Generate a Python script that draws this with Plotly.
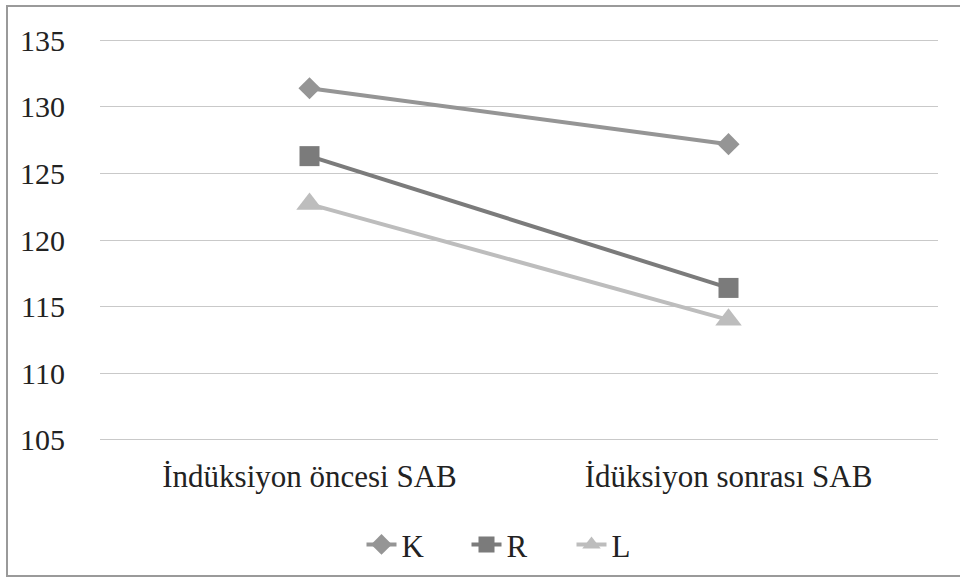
import plotly.graph_objects as go

# Systolic blood pressure (SAB) before and after induction, by group
categories = ["İndüksiyon öncesi SAB", "İdüksiyon sonrası SAB"]
series_names = ["K", "R", "L"]
k_values = [131.4, 127.2]
r_values = [126.3, 116.4]
l_values = [122.7, 114.0]
y_ticks = [105, 110, 115, 120, 125, 130, 135]

styles = {
    "K": dict(color="#959595", symbol="diamond", size=17),
    "R": dict(color="#7b7b7b", symbol="square", size=20),
    "L": dict(color="#bdbdbd", symbol="triangle-up", size=23),
}

fig = go.Figure()
for name, vals in zip(series_names, [k_values, r_values, l_values]):
    st = styles[name]
    fig.add_trace(go.Scatter(
        x=categories, y=vals, name=name, mode="lines+markers",
        line=dict(color=st["color"], width=4),
        marker=dict(symbol=st["symbol"], size=st["size"], color=st["color"],
                    line=dict(width=0)),
    ))

font_family = "'Liberation Serif', 'Times New Roman', 'DejaVu Serif', serif"
fig.update_layout(
    width=960, height=583,
    margin=dict(l=100, r=22, t=39, b=141),
    paper_bgcolor="white", plot_bgcolor="white",
    font=dict(family=font_family, size=29, color="#222222"),
    xaxis=dict(
        type="category", range=[-0.5, 1.5], showgrid=False, zeroline=False,
        showline=False, ticks="", ticklabelstandoff=14,
        tickfont=dict(family=font_family, size=31, color="#222222"),
    ),
    yaxis=dict(
        range=[104.9, 135.1], tickvals=y_ticks, showgrid=True, gridcolor="#c9c9c9",
        gridwidth=1, zeroline=False, showline=False, ticks="",
        tickfont=dict(family=font_family, size=30, color="#222222"),
        ticklabelstandoff=34,
    ),
    legend=dict(
        orientation="h", x=0.5, xanchor="center", y=-0.255, yanchor="middle",
        font=dict(family=font_family, size=31, color="#222222"), itemwidth=30,
        entrywidth=60, entrywidthmode="pixels", tracegroupgap=0,
    ),
    showlegend=True,
)

# Outer chart frame
fig.add_shape(type="rect", xref="paper", yref="paper",
              x0=(7 - 100) / 838, x1=(963 - 100) / 838,
              y0=-(577 - 442) / 402, y1=1 + (39 - 6) / 402,
              line=dict(color="#9a9a9a", width=2), layer="below")

fig.write_html("out.html")
